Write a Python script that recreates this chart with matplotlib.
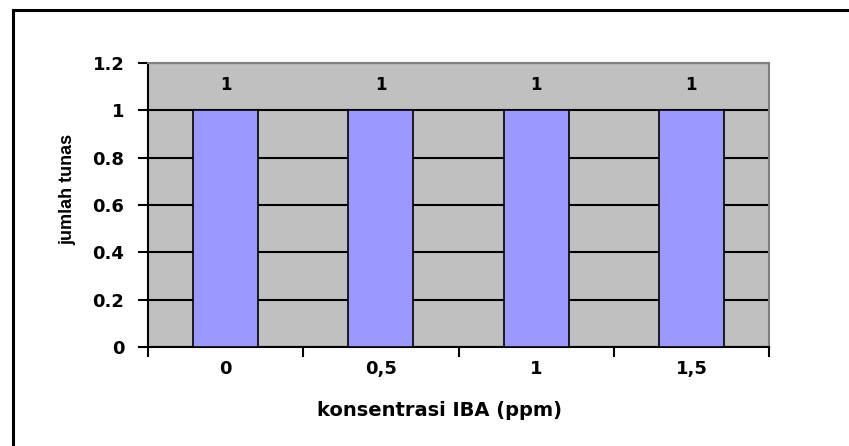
import matplotlib.pyplot as plt
from matplotlib.patches import Rectangle

plt.rcParams['font.family'] = ['DejaVu Sans']

# data
categories = ["0", "0,5", "1", "1,5"]
jumlah_tunas = [1, 1, 1, 1]
y_ticks = [0, 0.2, 0.4, 0.6, 0.8, 1, 1.2]
y_tick_labels = ["0", "0.2", "0.4", "0.6", "0.8", "1", "1.2"]

fig = plt.figure(figsize=(8.49, 4.46), dpi=100)
ax = fig.add_axes([0.1743, 0.222, 0.7315, 0.6368])

# black frame around the chart (only left and top fall inside the picture)
fig.patches.append(Rectangle((13 / 849, -0.1), 1.2, 1 - 10 / 446 + 0.1,
                             transform=fig.transFigure, fill=False,
                             edgecolor='black', linewidth=2.2))

ax.set_facecolor('#C0C0C0')
x = list(range(len(categories)))
ax.bar(x, jumlah_tunas, width=0.42, color='#9999FF',
       edgecolor='black', linewidth=1.2, zorder=3)

for xi, v in zip(x, jumlah_tunas):
    ax.text(xi, v + 0.085, str(v), ha='center', va='baseline',
            fontsize=12, fontweight='bold', zorder=4)

ax.set_xlim(-0.5, len(categories) - 0.5)
ax.set_ylim(0, 1.2)
ax.set_yticks(y_ticks)
ax.set_yticklabels(y_tick_labels, fontsize=13, fontweight='bold')
ax.yaxis.grid(True, color='black', linewidth=1.5, zorder=1)
ax.set_axisbelow(True)

# category names at centres, tick marks on the boundaries
ax.set_xticks(x)
ax.set_xticklabels(categories, fontsize=13, fontweight='bold')
ax.tick_params(axis='x', which='major', length=0, pad=9.5)
ax.set_xticks([i - 0.5 for i in range(len(categories) + 1)], minor=True)
ax.tick_params(axis='x', which='minor', length=7, width=1.5, direction='out')
ax.tick_params(axis='y', length=7, width=1.5, direction='out', pad=10)

ax.set_xlabel("konsentrasi IBA (ppm)", fontsize=14, fontweight='bold')
ax.xaxis.set_label_coords(0.469, -0.19)
ax.set_ylabel("jumlah tunas", fontsize=13, fontweight='bold',
              family=['Liberation Sans', 'DejaVu Sans'])
ax.yaxis.set_label_coords(-0.116, 0.553)

ax.spines['left'].set_linewidth(1.5)
ax.spines['bottom'].set_linewidth(1.5)
ax.spines['top'].set_color('#808080')
ax.spines['right'].set_color('#808080')
ax.spines['top'].set_linewidth(1.5)
ax.spines['right'].set_linewidth(1.5)

fig.savefig("out.png", dpi=100)
